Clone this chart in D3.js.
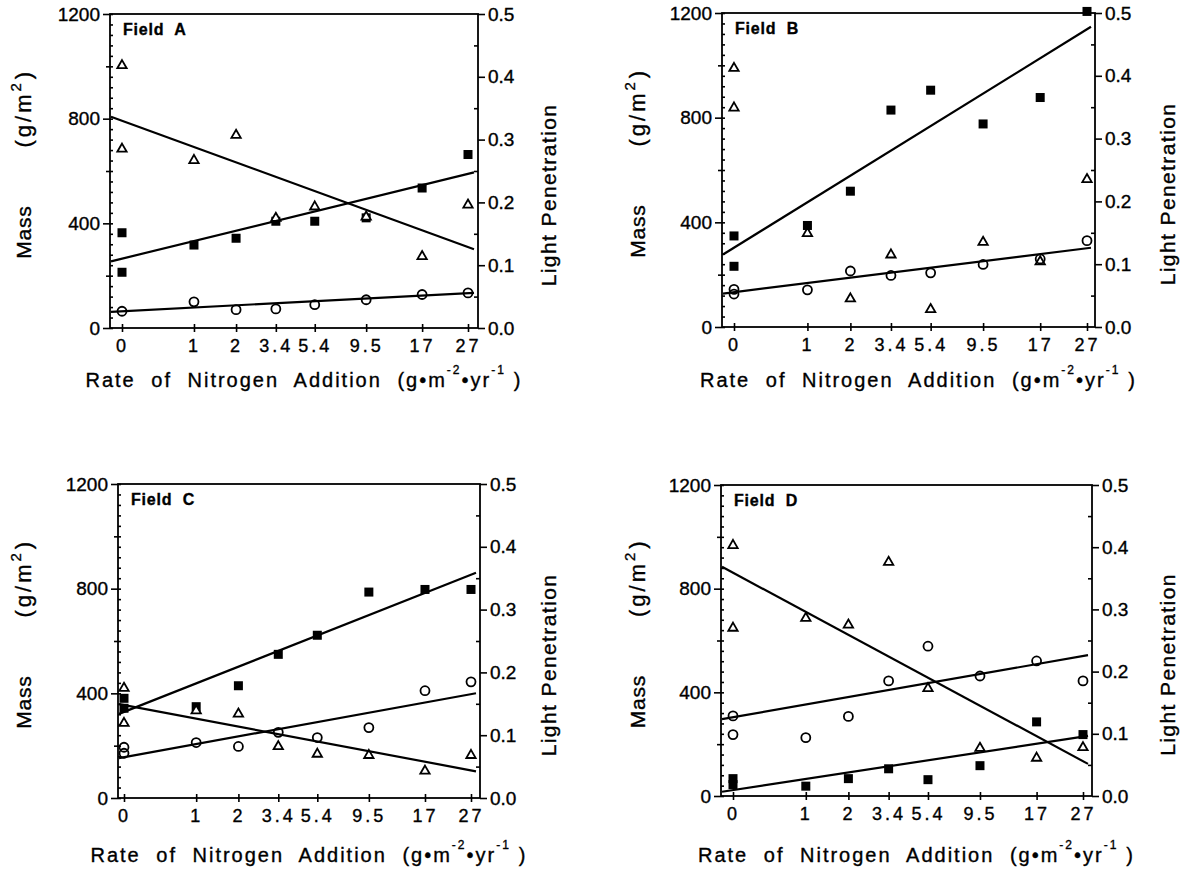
<!DOCTYPE html>
<html>
<head>
<meta charset="utf-8">
<script src="https://cdn.jsdelivr.net/npm/d3@7"></script>
<style>
  body { margin: 0; background: #fff; }
  svg text { font-family: "Liberation Sans", Arial, sans-serif; fill: #000; stroke: #000; stroke-width: 0.35; }
</style>
</head>
<body>
<div class="canvas"></div>
<script>
// N addition levels (g m-2 yr-1); controls (0) have two replicates
const rateTicks = [0, 1, 2, 3.4, 5.4, 9.5, 17, 27];
const plotRates = [0, 0, 1, 2, 3.4, 5.4, 9.5, 17, 27];
const massTicks = [0, 400, 800, 1200];
const lightTicks = [0.0, 0.1, 0.2, 0.3, 0.4, 0.5];

// Field A
const fieldA_squares = [364, 213, 317, 343, 408, 408, 421, 535, 663];
const fieldA_circles = [64, null, 100, 70, 73, 89, 108, 128, 134];
const fieldA_triangles = [0.418, 0.285, 0.267, 0.307, 0.175, 0.193, 0.177, 0.114, 0.196];
const fieldA_squareFit = [265, 589];
const fieldA_circleFit = [64, 133];
const fieldA_triangleFit = [0.330, 0.129];

// Field B
const fieldB_squares = [348, 232, 388, 519, 829, 905, 776, 877, 1206];
const fieldB_circles = [144, 126, 142, 214, 197, 207, 239, 260, 330];
const fieldB_triangles = [0.412, 0.349, 0.149, 0.045, 0.115, 0.028, 0.135, 0.104, 0.235];
const fieldB_squareFit = [303, 1138];
const fieldB_circleFit = [133, 301];

// Field C
const fieldC_squares = [381, 343, 349, 429, 549, 622, 787, 797, 797];
const fieldC_circles = [194, 171, 212, 197, 251, 231, 269, 410, 444];
const fieldC_triangles = [0.175, 0.119, 0.139, 0.134, 0.082, 0.070, 0.068, 0.043, 0.068];
const fieldC_squareFit = [329, 853];
const fieldC_circleFit = [156, 397];
const fieldC_triangleFit = [0.148, 0.044];

// Field D
const fieldD_squares = [67, 44, 38, 67, 105, 63, 117, 286, 237];
const fieldD_circles = [309, 237, 225, 307, 444, 578, 463, 521, 444];
const fieldD_triangles = [0.403, 0.270, 0.286, 0.275, 0.376, 0.173, 0.077, 0.061, 0.078];
const fieldD_squareFit = [23, 229];
const fieldD_circleFit = [304, 540];
const fieldD_triangleFit = [0.359, 0.056];

const width = 1183, height = 872;

const panels = [
    { name: 'Field A', left: 110, right: 478, top: 14, bottom: 328, x0: 122, x27: 468, massX: 24, lightX: 549, titleY: 387,
      squares: fieldA_squares, circles: fieldA_circles, triangles: fieldA_triangles,
      fits: [['mass', fieldA_squareFit], ['mass', fieldA_circleFit], ['light', fieldA_triangleFit]] },
    { name: 'Field B', left: 722, right: 1095, top: 13, bottom: 327, x0: 734, x27: 1087, massX: 638, lightX: 1168, titleY: 387,
      squares: fieldB_squares, circles: fieldB_circles, triangles: fieldB_triangles,
      fits: [['mass', fieldB_squareFit], ['mass', fieldB_circleFit]] },
    { name: 'Field C', left: 118, right: 480, top: 484, bottom: 798, x0: 124, x27: 471, massX: 24, lightX: 549, titleY: 862,
      squares: fieldC_squares, circles: fieldC_circles, triangles: fieldC_triangles,
      fits: [['mass', fieldC_squareFit], ['mass', fieldC_circleFit], ['light', fieldC_triangleFit]] },
    { name: 'Field D', left: 721, right: 1092, top: 485, bottom: 796, x0: 733, x27: 1083, massX: 638, lightX: 1168, titleY: 862,
      squares: fieldD_squares, circles: fieldD_circles, triangles: fieldD_triangles,
      fits: [['mass', fieldD_squareFit], ['mass', fieldD_circleFit], ['light', fieldD_triangleFit]] },
];

const svg = d3.select('.canvas')
    .append('svg')
    .attr('width', width)
    .attr('height', height)
    .style('background', '#fff');

panels.forEach(p => drawPanel(p));

function drawPanel(p) {
    const g = svg.append('g');

    // x is log(N + 1)
    const x = d3.scaleLog().domain([1, 28]).range([p.x0, p.x27]);
    const yMass = d3.scaleLinear().domain([0, 1200]).range([p.bottom, p.top]);
    const yLight = d3.scaleLinear().domain([0, 0.5]).range([p.bottom, p.top]);

    // frame
    g.append('rect')
        .attr('x', p.left).attr('y', p.top)
        .attr('width', p.right - p.left).attr('height', p.bottom - p.top)
        .attr('fill', 'none').attr('stroke', '#000').attr('stroke-width', 1.8);

    // left axis: minor ticks inward, major outward
    g.append('g').attr('transform', `translate(${p.left},0)`)
        .call(d3.axisRight(yMass).tickValues(d3.range(0, 1201, 40)).tickSize(3).tickFormat(''))
        .call(a => a.select('.domain').remove());
    g.append('g').attr('transform', `translate(${p.left},0)`)
        .call(d3.axisLeft(yMass).tickValues([200, 600, 1000]).tickSize(4).tickFormat(''))
        .call(a => a.select('.domain').remove());
    g.append('g').attr('class', 'ylab').attr('transform', `translate(${p.left},0)`)
        .call(d3.axisLeft(yMass).tickValues(massTicks).tickSize(7).tickPadding(3).tickFormat(d3.format('d')))
        .call(a => a.select('.domain').remove());

    // right axis
    g.append('g').attr('transform', `translate(${p.right},0)`)
        .call(d3.axisLeft(yLight).tickValues([0.05, 0.15, 0.25, 0.35, 0.45]).tickSize(4).tickFormat(''))
        .call(a => a.select('.domain').remove());
    g.append('g').attr('class', 'ylab').attr('transform', `translate(${p.right},0)`)
        .call(d3.axisRight(yLight).tickValues(lightTicks).tickSize(7).tickPadding(3).tickFormat(d3.format('.1f')))
        .call(a => a.select('.domain').remove());

    // bottom axis: crossing ticks
    g.append('g').attr('transform', `translate(0,${p.bottom})`)
        .call(d3.axisTop(x).tickValues(rateTicks.map(d => d + 1)).tickSize(4).tickFormat(''))
        .call(a => a.select('.domain').remove());
    g.append('g').attr('class', 'xlab').attr('transform', `translate(0,${p.bottom})`)
        .call(d3.axisBottom(x).tickValues(rateTicks.map(d => d + 1)).tickSize(4).tickPadding(7)
            .tickFormat(d => String(Math.round((d - 1) * 10) / 10)))
        .call(a => a.select('.domain').remove());

    g.selectAll('.tick line').attr('stroke', '#000').attr('stroke-width', 1.6);
    g.selectAll('.ylab text').attr('font-size', 19).attr('fill', '#000');
    g.selectAll('.xlab text').attr('font-size', 18).attr('fill', '#000').attr('letter-spacing', 3);

    // markers
    const pts = (vals, scale) => vals.map((v, i) => ({ n: plotRates[i], v }))
        .filter(d => d.v !== null)
        .map(d => ({ cx: x(d.n + 1), cy: scale(d.v) }));

    g.append('g').selectAll('rect')
        .data(pts(p.squares, yMass))
        .join('rect')
        .attr('x', d => d.cx - 4.5).attr('y', d => d.cy - 4.5)
        .attr('width', 9).attr('height', 9)
        .attr('fill', '#000');

    const tri = d3.symbol().type(d3.symbolTriangle).size(38);
    g.append('g').selectAll('path')
        .data(pts(p.triangles, yLight))
        .join('path')
        .attr('d', tri)
        .attr('transform', d => `translate(${d.cx},${d.cy})`)
        .attr('fill', '#fff').attr('stroke', '#000').attr('stroke-width', 1.8);

    g.append('g').selectAll('circle')
        .data(pts(p.circles, yMass))
        .join('circle')
        .attr('cx', d => d.cx).attr('cy', d => d.cy).attr('r', 4.5)
        .attr('fill', 'none').attr('stroke', '#000').attr('stroke-width', 1.8);

    // fitted lines, linear in log(N + 1)
    const lnMax = Math.log(28);
    p.fits.forEach(([axis, fit]) => {
        const scale = axis === 'mass' ? yMass : yLight;
        const ends = [x.invert(p.left + 1), x.invert(p.right - 4)].map(n1 => ({
            px: x(n1),
            v: fit[0] + (fit[1] - fit[0]) * Math.log(n1) / lnMax
        }));
        g.append('path')
            .attr('d', d3.line().x(d => d.px).y(d => scale(d.v))(ends))
            .attr('fill', 'none').attr('stroke', '#000').attr('stroke-width', 2.2);
    });

    // panel label
    g.append('text')
        .attr('x', p.left + 13).attr('y', p.top + 21)
        .attr('font-size', 16).attr('font-weight', 'bold').attr('letter-spacing', 0.8)
        .attr('xml:space', 'preserve')
        .text(p.name.replace(' ', '  '));

    // axis titles
    const cy = (p.top + p.bottom) / 2;
    const massT = g.append('text')
        .attr('transform', `translate(${p.massX},${cy - 6}) rotate(-90)`)
        .attr('text-anchor', 'middle').attr('dy', '0.35em')
        .attr('font-size', 21).attr('letter-spacing', 0.8);
    massT.append('tspan').text('Mass');
    massT.append('tspan').attr('dx', 58).attr('letter-spacing', 3).attr('font-size', 22).text('(g/m');
    massT.append('tspan').attr('dy', -10).attr('font-size', 15).text('2');
    massT.append('tspan').attr('dy', 10).attr('dx', 3).attr('font-size', 22).text(')');

    g.append('text')
        .attr('transform', `translate(${p.lightX},${cy + 24}) rotate(-90)`)
        .attr('text-anchor', 'middle').attr('dy', '0.35em')
        .attr('font-size', 21).attr('letter-spacing', 1.4)
        .text('Light Penetration');

    const xt = g.append('text')
        .attr('x', (p.left + p.right) / 2 + 10).attr('y', p.titleY)
        .attr('text-anchor', 'middle')
        .attr('font-size', 20).attr('letter-spacing', 2).attr('word-spacing', 8)
        .attr('xml:space', 'preserve');
    xt.append('tspan').text('Rate of Nitrogen Addition (g•m');
    xt.append('tspan').attr('dy', -13).attr('font-size', 12).text('-2');
    xt.append('tspan').attr('dy', 13).text('•yr');
    xt.append('tspan').attr('dy', -13).attr('font-size', 12).text('-1');
    xt.append('tspan').attr('dy', 13).attr('dx', 8).text(')');
}
</script>
</body>
</html>
